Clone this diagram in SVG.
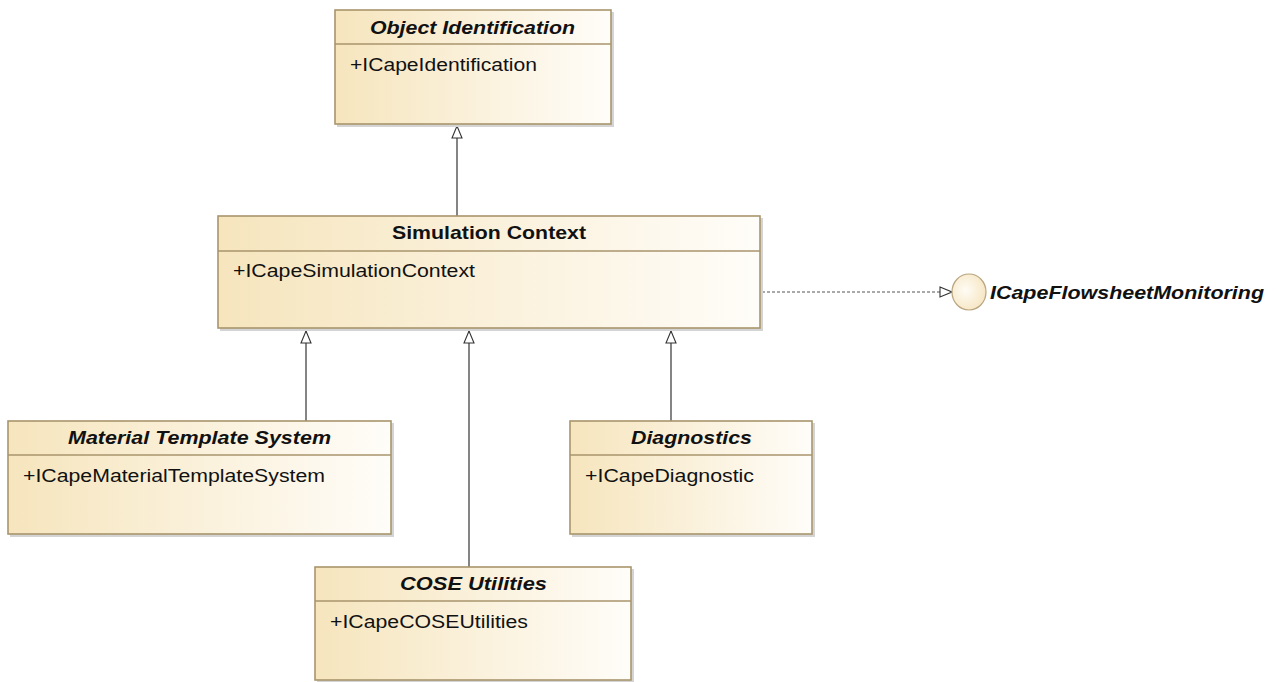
<svg xmlns="http://www.w3.org/2000/svg" width="1276" height="682" viewBox="0 0 1276 682">
  <style>
    .box { fill: url(#classFill); stroke: #a8956c; stroke-width: 1.6; }
    .shadow { fill: #d4d4d4; }
    .div { stroke: #a8956c; stroke-width: 1.4; }
    .title { font-family: "Liberation Sans", Arial, sans-serif; font-size: 19px; font-weight: bold; fill: #111; }
    .abstract { font-style: italic; }
    .attr { font-family: "Liberation Sans", Arial, sans-serif; font-size: 17.5px; fill: #111; }
    .gen { fill: none; stroke: #333; stroke-width: 1.2; }
    .real { fill: none; stroke: #555; stroke-width: 1.1; stroke-dasharray: 3 2; }
  </style>
  <defs>
    <linearGradient id="classFill" x1="0" y1="0" x2="1" y2="0">
      <stop offset="0" stop-color="#f6e5bd"/>
      <stop offset="1" stop-color="#fffdf9"/>
    </linearGradient>
    <radialGradient id="ifaceFill" cx="0.4" cy="0.45" r="0.6">
      <stop offset="0" stop-color="#fffcf5"/>
      <stop offset="1" stop-color="#f6e6c4"/>
    </radialGradient>
    <marker id="hollowTri" markerWidth="14" markerHeight="14" refX="13" refY="6" orient="auto" markerUnits="userSpaceOnUse">
      <path d="M1,1 L13,6 L1,11 Z" fill="#fff" stroke="#333" stroke-width="1.1"/>
    </marker>
  </defs>

  <rect width="1276" height="682" fill="#fff"/>

  <!-- connectors -->
  <g id="connectors">
    <line class="gen" x1="457" y1="216" x2="457" y2="126" marker-end="url(#hollowTri)"/>
    <line class="gen" x1="306" y1="421" x2="306" y2="331" marker-end="url(#hollowTri)"/>
    <line class="gen" x1="469" y1="567" x2="469" y2="331" marker-end="url(#hollowTri)"/>
    <line class="gen" x1="671" y1="421" x2="671" y2="331" marker-end="url(#hollowTri)"/>
    <line class="real" x1="762" y1="292" x2="952" y2="292" marker-end="url(#hollowTri)"/>
  </g>

  <!-- Object Identification -->
  <g id="object-identification">
    <rect class="shadow" x="337" y="12" width="277" height="115"/>
    <rect class="box" x="335" y="10" width="276" height="114"/>
    <line class="div" x1="335" y1="44" x2="611" y2="44"/>
    <text class="title abstract" x="370" y="34" textLength="205" lengthAdjust="spacingAndGlyphs">Object Identification</text>
    <text class="attr" x="350" y="71" textLength="187" lengthAdjust="spacingAndGlyphs">+ICapeIdentification</text>
  </g>

  <!-- Simulation Context -->
  <g id="simulation-context">
    <rect class="shadow" x="220" y="218" width="543" height="113"/>
    <rect class="box" x="218" y="216" width="542" height="112"/>
    <line class="div" x1="218" y1="251" x2="760" y2="251"/>
    <text class="title" x="392" y="239" textLength="194" lengthAdjust="spacingAndGlyphs">Simulation Context</text>
    <text class="attr" x="233" y="277" textLength="242" lengthAdjust="spacingAndGlyphs">+ICapeSimulationContext</text>
  </g>

  <!-- ICapeFlowsheetMonitoring interface -->
  <g id="icape-flowsheet-monitoring">
    <ellipse cx="969" cy="292" rx="17" ry="18" fill="url(#ifaceFill)" stroke="#b9a57e" stroke-width="1.2"/>
    <text class="title abstract" x="990" y="299" textLength="274" lengthAdjust="spacingAndGlyphs">ICapeFlowsheetMonitoring</text>
  </g>

  <!-- Material Template System -->
  <g id="material-template-system">
    <rect class="shadow" x="10" y="423" width="384" height="114"/>
    <rect class="box" x="8" y="421" width="383" height="113"/>
    <line class="div" x1="8" y1="455" x2="391" y2="455"/>
    <text class="title abstract" x="68" y="444" textLength="263" lengthAdjust="spacingAndGlyphs">Material Template System</text>
    <text class="attr" x="23" y="482" textLength="302" lengthAdjust="spacingAndGlyphs">+ICapeMaterialTemplateSystem</text>
  </g>

  <!-- Diagnostics -->
  <g id="diagnostics">
    <rect class="shadow" x="572" y="423" width="243" height="114"/>
    <rect class="box" x="570" y="421" width="242" height="113"/>
    <line class="div" x1="570" y1="455" x2="812" y2="455"/>
    <text class="title abstract" x="631" y="444" textLength="121" lengthAdjust="spacingAndGlyphs">Diagnostics</text>
    <text class="attr" x="585" y="482" textLength="169" lengthAdjust="spacingAndGlyphs">+ICapeDiagnostic</text>
  </g>

  <!-- COSE Utilities -->
  <g id="cose-utilities">
    <rect class="shadow" x="317" y="569" width="317" height="115"/>
    <rect class="box" x="315" y="567" width="316" height="113"/>
    <line class="div" x1="315" y1="601" x2="631" y2="601"/>
    <text class="title abstract" x="400" y="590" textLength="147" lengthAdjust="spacingAndGlyphs">COSE Utilities</text>
    <text class="attr" x="330" y="628" textLength="198" lengthAdjust="spacingAndGlyphs">+ICapeCOSEUtilities</text>
  </g>
</svg>
